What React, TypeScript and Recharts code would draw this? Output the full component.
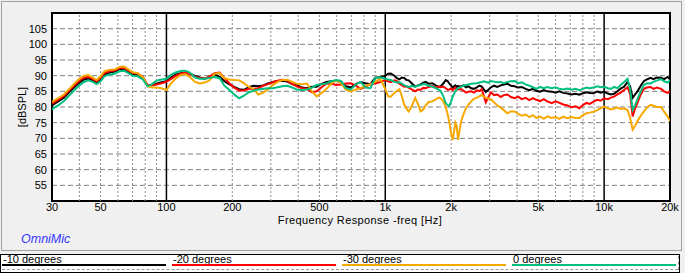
import React from 'react';
import { LineChart, Line, XAxis, YAxis, CartesianGrid, ReferenceLine, ReferenceArea } from 'recharts';

// frequency points in Hz (rows of 10)
const freqs = [
  30, 32, 34, 36, 38, 40, 42, 44, 46, 48,
  50, 52, 55, 58, 61, 64, 67, 70, 74, 78,
  82, 86, 90, 95, 100, 105, 110, 116, 122, 128,
  135, 142, 150, 158, 166, 175, 184, 194, 204, 215,
  226, 238, 250, 263, 277, 291, 306, 322, 339, 357,
  376, 396, 417, 439, 462, 486, 512, 539, 567, 597,
  628, 661, 696, 733, 771, 812, 855, 900, 947, 997,
  1030, 1060, 1100, 1130, 1160, 1190, 1220, 1250, 1280, 1320,
  1370, 1410, 1450, 1490, 1530, 1580, 1640, 1700, 1750, 1790,
  1840, 1890, 1930, 1960, 2000, 2030, 2060, 2090, 2120, 2150,
  2180, 2220, 2280, 2340, 2400, 2470, 2540, 2620, 2690, 2760,
  2820, 2880, 2960, 3040, 3140, 3250, 3370, 3480, 3610, 3750,
  3900, 4050, 4200, 4380, 4550, 4730, 4900, 5100, 5300, 5500,
  5760, 6000, 6250, 6500, 6800, 7100, 7400, 7710, 8000, 8300,
  8600, 8940, 9300, 9650, 9980, 10400, 10750, 11100, 11500, 11900,
  12340, 12800, 13150, 13500, 13850, 14200, 14700, 15200, 15700, 16300,
  16800, 17400, 18200, 18800, 19500, 20000,
];

const minus10 = [
  80.5, 81.8, 83.0, 84.8, 86.4, 87.8, 88.8, 89.1, 88.6, 87.8,
  88.7, 90.4, 91.0, 91.3, 92.1, 92.2, 91.3, 90.5, 90.3, 89.2,
  86.8, 86.9, 87.4, 87.9, 88.2, 89.4, 90.3, 90.8, 91.0, 90.6,
  89.9, 89.4, 89.0, 89.8, 90.4, 89.6, 88.2, 87.2, 86.4, 85.7,
  85.5, 86.3, 86.8, 86.6, 86.9, 87.5, 88.0, 88.3, 88.4, 88.1,
  87.3, 86.9, 86.2, 86.0, 86.5, 86.5, 87.4, 88.0, 88.2, 88.4,
  87.9, 86.6, 86.2, 87.3, 88.0, 87.6, 87.3, 89.3, 89.6, 89.9,
  90.6, 90.7, 90.0, 89.2, 88.8, 89.4, 89.3, 88.6, 88.5, 87.6,
  86.5, 86.9, 87.2, 87.8, 88.0, 87.4, 87.6, 86.9, 86.4, 86.6,
  87.5, 88.6, 88.2, 87.5, 86.8, 86.2, 86.6, 86.9, 86.4, 86.7,
  86.5, 86.6, 86.9, 86.3, 86.6, 86.0, 85.8, 86.3, 86.8, 86.5,
  85.6, 84.8, 85.5, 86.3, 86.8, 86.4, 86.9, 87.2, 87.4, 86.8,
  86.6, 86.2, 86.4, 85.8, 85.4, 85.8, 85.2, 84.9, 85.4, 85.0,
  84.9, 84.6, 85.0, 84.5, 84.3, 84.0, 84.2, 83.9, 84.4, 84.7,
  84.5, 84.4, 84.9, 84.6, 84.9, 84.3, 84.0, 84.2, 85.0, 85.9,
  86.5, 88.0, 86.5, 82.9, 84.0, 85.0, 86.8, 88.3, 88.8, 89.3,
  88.9, 89.4, 89.3, 88.9, 89.6, 88.8,
];

const minus20 = [
  81.1, 82.3, 83.5, 85.3, 86.9, 88.4, 89.4, 89.6, 89.0, 88.2,
  89.2, 90.8, 91.4, 91.6, 92.4, 92.5, 91.7, 90.9, 90.6, 89.6,
  87.0, 87.0, 87.2, 87.6, 88.0, 89.0, 89.9, 90.6, 91.0, 90.5,
  89.6, 89.3, 89.0, 89.8, 90.8, 91.0, 89.2, 87.6, 86.2, 85.3,
  85.3, 85.8, 85.8, 86.0, 86.8, 87.3, 87.9, 88.4, 88.7, 88.4,
  87.4, 86.5, 86.0, 85.8, 84.7, 85.0, 86.3, 87.5, 87.4, 87.0,
  87.2, 87.5, 87.6, 86.8, 85.8, 86.5, 87.3, 87.5, 88.0, 88.6,
  88.2, 87.9, 88.5, 88.3, 87.4, 87.0, 86.5, 86.6, 86.2, 85.6,
  85.0, 85.6, 85.5, 86.1, 86.0, 86.4, 86.7, 86.2, 86.5, 86.3,
  86.5, 86.0, 85.5, 85.6, 85.9, 85.4, 85.8, 86.2, 85.5, 85.8,
  85.6, 85.7, 85.2, 84.6, 84.9, 85.0, 84.6, 85.3, 85.1, 85.7,
  83.5, 81.5, 83.2, 84.6, 83.8, 84.0, 83.2, 83.8, 84.0, 83.2,
  82.8, 83.3, 82.5, 82.9, 82.2, 82.8, 82.3, 81.9, 82.5, 81.8,
  81.2, 81.8, 81.3, 80.8, 80.5, 79.9, 80.2, 79.6, 80.6, 81.3,
  81.0, 81.7, 82.3, 82.0, 82.8, 82.5, 83.0, 83.3, 84.0, 84.6,
  85.4, 86.3, 84.0, 77.0, 79.5, 81.3, 84.0, 85.8, 86.2, 86.4,
  85.8, 86.2, 85.8, 85.0, 84.5, 85.0,
];

const minus30 = [
  81.6, 82.8, 84.0, 85.8, 87.5, 89.0, 90.0, 90.2, 89.4, 88.6,
  89.8, 91.4, 91.9, 92.0, 92.8, 92.9, 92.0, 91.1, 90.8, 89.5,
  86.6, 86.2, 86.2, 86.0, 85.4, 87.6, 89.0, 90.2, 90.5, 89.6,
  88.0, 87.5, 87.8, 88.6, 90.6, 90.8, 89.2, 88.8, 88.6, 88.5,
  87.6, 86.4, 85.8, 84.0, 84.6, 85.6, 87.0, 88.0, 88.6, 88.7,
  88.0, 87.4, 87.3, 87.5, 85.0, 83.4, 84.5, 85.8, 87.5, 88.4,
  87.6, 85.5, 85.0, 85.6, 86.0, 86.8, 87.3, 88.0, 89.0, 86.0,
  83.4, 83.3, 84.5, 85.2, 85.7, 83.5, 80.8, 79.5, 78.6, 80.2,
  82.9, 81.0, 78.6, 79.2, 80.5, 81.6, 81.8, 82.4, 83.0, 82.8,
  81.8, 80.0, 77.5, 75.4, 71.5, 69.5, 72.0, 75.0, 74.0, 69.5,
  72.0, 75.4, 77.8, 79.7, 80.8, 81.8, 82.6, 83.0, 83.4, 83.9,
  83.2, 83.0, 82.7, 82.4, 81.5, 80.5, 79.8, 79.0, 78.0, 78.6,
  78.6, 77.8, 77.2, 77.6, 76.8, 77.4, 76.5, 76.9, 76.2, 77.0,
  76.5, 76.8, 76.2, 76.9, 76.4, 76.8, 76.5, 76.5, 77.4, 78.0,
  78.2, 78.5, 79.0, 79.6, 80.1, 79.6, 79.2, 79.5, 79.8, 79.4,
  79.6, 79.0, 76.5, 72.8, 74.0, 75.5, 77.2, 78.6, 79.8, 80.7,
  80.4, 80.0, 80.0, 78.5, 77.0, 75.5,
];

const zero = [
  79.3, 80.5, 81.9, 83.7, 85.4, 86.9, 88.0, 88.5, 88.0, 87.3,
  88.2, 89.8, 90.4, 90.6, 91.4, 91.6, 90.8, 90.0, 89.8, 88.8,
  86.6, 87.3, 88.4, 88.8, 89.0, 90.3, 91.0, 91.5, 91.6, 91.0,
  89.4, 89.0, 89.0, 89.3, 89.6, 89.2, 86.8, 85.4, 84.0, 82.8,
  83.6, 84.7, 85.2, 85.6, 85.8, 86.0, 86.0, 86.3, 86.6, 86.8,
  86.2, 85.5, 85.4, 85.6, 86.2, 87.0, 87.3, 87.5, 88.2, 88.6,
  88.3, 86.0, 85.6, 87.2, 88.0, 86.2, 86.0, 89.3, 89.5, 89.0,
  88.8, 88.6, 88.0, 87.8, 87.9, 87.5, 87.0, 86.6, 86.4, 86.7,
  86.5, 86.8, 87.0, 87.3, 87.2, 86.8, 86.5, 86.0, 85.6, 85.1,
  83.5, 81.2, 80.6, 80.2, 81.8, 83.2, 84.2, 85.0, 85.6, 86.0,
  86.2, 86.4, 86.8, 87.0, 87.2, 87.4, 87.5, 87.6, 87.8, 88.0,
  88.2, 88.0, 87.8, 88.3, 88.1, 87.9, 88.0, 87.6, 88.0, 88.2,
  88.3, 87.6, 87.9, 87.2, 86.8, 86.3, 85.8, 86.4, 86.0, 86.4,
  86.0, 86.3, 85.8, 85.6, 85.9, 85.5, 85.8, 85.4, 85.8, 86.2,
  86.0, 86.2, 86.6, 86.3, 86.5, 86.0, 85.8, 86.4, 86.0, 87.0,
  88.0, 89.0, 85.5, 79.1, 80.5, 82.5, 85.0, 87.0, 87.6, 87.5,
  88.0, 88.4, 88.9, 88.2, 87.8, 88.5,
];

const freqTicks = [30, 50, 100, 200, 500, 1000, 2000, 5000, 10000, 20000];
const dbTicks = [55, 60, 65, 70, 75, 80, 85, 90, 95, 100, 105];
const minorFreqs = [40, 50, 60, 70, 80, 90, 200, 300, 400, 500, 600, 700, 800, 900,
  2000, 3000, 4000, 5000, 6000, 7000, 8000, 9000];
const decadeFreqs = [100, 1000, 10000];

const series = [
  { key: 'm10', name: '-10 degrees', color: '#000000', values: minus10 },
  { key: 'm20', name: '-20 degrees', color: '#ff0000', values: minus20 },
  { key: 'm30', name: '-30 degrees', color: '#f7a800', values: minus30 },
  { key: 'z0', name: '0 degrees', color: '#00bf80', values: zero },
];

const data = freqs.map((f, i) => {
  const row: Record<string, number> = { f };
  series.forEach((s) => { row[s.key] = s.values[i]; });
  return row;
});

const fmtFreq = (v: number) => (v >= 1000 ? `${v / 1000}k` : `${v}`);

const font = '"Liberation Sans", Arial, sans-serif';

export default function App() {
  return (
    <div style={{ position: 'absolute', left: 0, top: 0, width: 685, height: 273, background: '#f0f0f0', fontFamily: font, overflow: 'hidden' }}>
      <div style={{ position: 'absolute', left: 1, top: 1, width: 681, height: 250, border: '1px solid #a0a0a0', boxSizing: 'border-box' }} />
      <div style={{ position: 'absolute', left: 0, top: 0 }}>
        <LineChart width={685} height={251} data={data} margin={{ top: 13, right: 15, bottom: 20, left: 0 }}>
          <CartesianGrid vertical={false} fill="#ffffff" stroke="#808080" strokeDasharray="5 3" />
          <XAxis
            dataKey="f"
            type="number"
            scale="log"
            domain={[30, 20000]}
            allowDataOverflow
            ticks={freqTicks}
            interval={0}
            tickFormatter={fmtFreq}
            tickLine={false}
            axisLine={false}
            tickSize={2}
            tickMargin={0}
            height={30}
            tick={{ fontSize: 11, fill: '#000', fontFamily: font }}
          />
          <YAxis
            type="number"
            domain={[50, 110]}
            allowDataOverflow
            ticks={dbTicks}
            interval={0}
            tickLine={false}
            axisLine={false}
            tickSize={3}
            tickMargin={2}
            width={52}
            tick={{ fontSize: 11, fill: '#000', fontFamily: font }}
          />
          {minorFreqs.map((f) => (
            <ReferenceLine key={`m${f}`} x={f} stroke="#8c8c8c" strokeDasharray="2 2" />
          ))}
          {decadeFreqs.map((f) => (
            <ReferenceLine key={`d${f}`} x={f} stroke="#000" strokeWidth={1.5} />
          ))}
          {series.map((s) => (
            <Line
              key={s.key}
              dataKey={s.key}
              name={s.name}
              type="linear"
              stroke={s.color}
              strokeWidth={2}
              dot={false}
              isAnimationActive={false}
            />
          ))}
          <ReferenceArea x1={30} x2={20000} y1={50} y2={110} fill="none" stroke="#000" strokeWidth={2} />
        </LineChart>
      </div>
      <div style={{ position: 'absolute', left: 360, top: 214, transform: 'translateX(-50%)', fontSize: 11, letterSpacing: 0.4, whiteSpace: 'nowrap', color: '#000' }}>
        Frequency Response -freq [Hz]
      </div>
      <div style={{ position: 'absolute', left: 22, top: 107, transform: 'translate(-50%, -50%) rotate(-90deg)', fontSize: 11, whiteSpace: 'nowrap', color: '#000' }}>
        [dBSPL]
      </div>
      <div style={{ position: 'absolute', left: 21, top: 232, fontSize: 12.5, fontStyle: 'italic', color: '#3535ff', whiteSpace: 'nowrap' }}>
        OmniMic
      </div>
      <div style={{ position: 'absolute', left: 0, top: 254, width: 680, height: 19, background: '#fff', border: '1px solid #000', boxSizing: 'border-box' }}>
        {series.map((s, i) => (
          <div key={s.key} style={{ position: 'absolute', left: 1 + i * 170, top: 0, width: 164, height: 12 }}>
            <div style={{ position: 'absolute', left: 1, top: -1, fontSize: 11, lineHeight: '11px', whiteSpace: 'nowrap', color: '#000' }}>{s.name}</div>
            <div style={{ position: 'absolute', left: 0, top: 9, width: 164, height: 2, background: s.color }} />
          </div>
        ))}
        <div style={{ position: 'absolute', left: 1, top: 14, width: 676, borderTop: '1px dashed #999' }} />
        <div style={{ position: 'absolute', left: 677, top: 1, height: 14, borderLeft: '1px dashed #999' }} />
      </div>
    </div>
  );
}
